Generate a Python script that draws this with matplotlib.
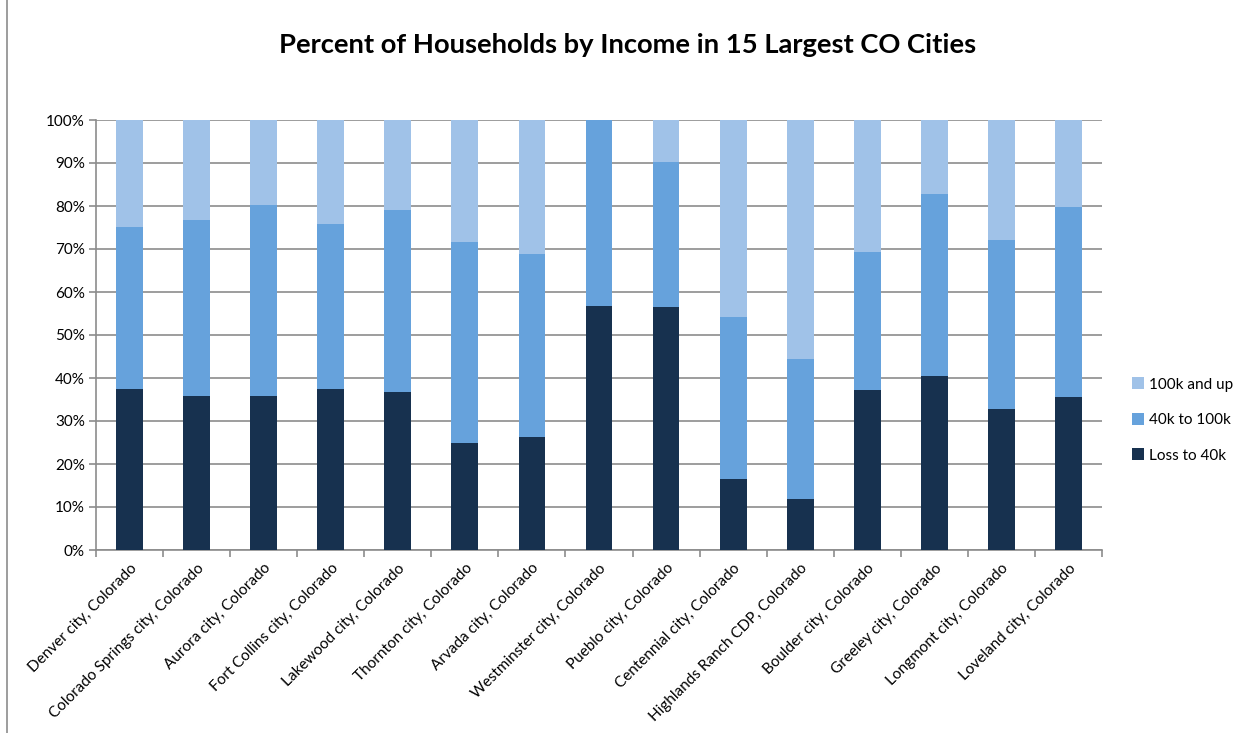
import matplotlib
matplotlib.use("Agg")
import matplotlib.pyplot as plt
from matplotlib.patches import Patch
from matplotlib.lines import Line2D
import numpy as np

cities = ["Denver city, Colorado", "Colorado Springs city, Colorado", "Aurora city, Colorado",
          "Fort Collins city, Colorado", "Lakewood city, Colorado", "Thornton city, Colorado",
          "Arvada city, Colorado", "Westminster city, Colorado", "Pueblo city, Colorado",
          "Centennial city, Colorado", "Highlands Ranch CDP, Colorado", "Boulder city, Colorado",
          "Greeley city, Colorado", "Longmont city, Colorado", "Loveland city, Colorado"]
loss_to_40k = [37.4, 35.9, 35.9, 37.4, 36.7, 25.0, 26.2, 56.8, 56.5, 16.5, 11.9, 37.1, 40.5, 32.8, 35.5]
k40_to_100k = [37.7, 40.8, 44.3, 38.5, 42.3, 46.6, 42.7, 43.2, 33.7, 37.7, 32.5, 32.2, 42.4, 39.2, 44.3]
k100_and_up = [24.9, 23.3, 19.8, 24.1, 21.0, 28.4, 31.1, 0.0, 9.8, 45.8, 55.6, 30.7, 17.1, 28.0, 20.2]
series_names = ["Loss to 40k", "40k to 100k", "100k and up"]
colors = ["#17314F", "#66A2DC", "#A0C2E8"]

plt.rcParams['font.family'] = ['Lato', 'DejaVu Sans']

fig = plt.figure(figsize=(12.49, 7.33), dpi=100)
ax = fig.add_axes([96/1249, 1-550/733, (1102-96)/1249, 430/733])

x = np.arange(len(cities))
bottom = np.zeros(len(cities))
for vals, c, name in zip([loss_to_40k, k40_to_100k, k100_and_up], colors, series_names):
    ax.bar(x, vals, bottom=bottom, width=0.4, color=c, zorder=3, label=name)
    bottom += np.array(vals)

ax.set_xlim(-0.5, len(cities) - 0.5)
ax.set_ylim(0, 100)
ax.set_yticks(np.arange(0, 101, 10))
ax.set_yticklabels([f"{v}%" for v in range(0, 101, 10)], fontsize=11)
ax.yaxis.grid(True, color="#8C8C8C", linewidth=1.2, zorder=0)
ax.set_axisbelow(True)

ax.set_xticks(x)
ax.set_xticklabels(cities, rotation=45, ha='right', rotation_mode='anchor', fontsize=11)
ax.tick_params(axis='x', length=0, pad=8)
# category separator ticks
ax.set_xticks(np.arange(-0.5, len(cities), 1), minor=True)
ax.tick_params(axis='x', which='minor', length=5, color="#8C8C8C", width=1.2, direction='out')
ax.tick_params(axis='y', length=5, color="#8C8C8C", width=1.2, pad=3)

for s in ['top', 'right']:
    ax.spines[s].set_visible(False)
for s in ['left', 'bottom']:
    ax.spines[s].set_color("#8C8C8C")
    ax.spines[s].set_linewidth(1.2)

fig.text(628/1249, 1-45/733, "Percent of Households by Income in 15 Largest CO Cities",
         ha='center', va='center', fontsize=19.7, fontweight='bold')

handles = [Patch(facecolor=colors[2], label=series_names[2]),
           Patch(facecolor=colors[1], label=series_names[1]),
           Patch(facecolor=colors[0], label=series_names[0])]
fig.legend(handles=handles, loc='center left', bbox_to_anchor=(1118/1249, 1-420/733),
           frameon=False, fontsize=11, handlelength=0.8, handleheight=0.8,
           labelspacing=1.4, handletextpad=0.3)

fig.add_artist(Line2D([7/1249, 7/1249], [0, 1], color="#8C8C8C", linewidth=1.2))

fig.savefig("out.png", dpi=100)
